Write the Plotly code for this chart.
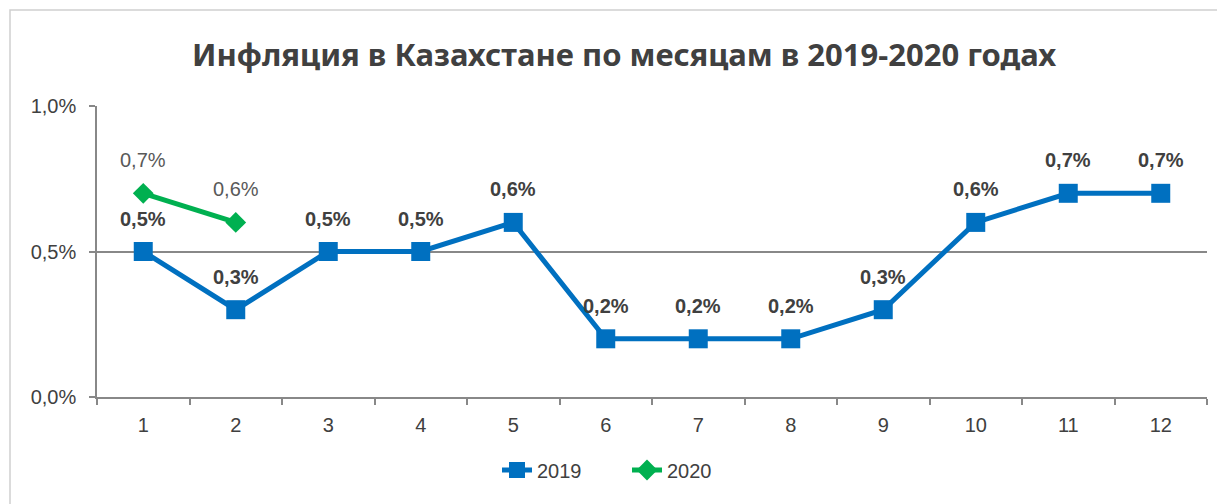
import plotly.graph_objects as go

months = ["1", "2", "3", "4", "5", "6", "7", "8", "9", "10", "11", "12"]
inf_2019 = [0.005, 0.003, 0.005, 0.005, 0.006, 0.002, 0.002, 0.002, 0.003, 0.006, 0.007, 0.007]
months_2020 = ["1", "2"]
inf_2020 = [0.007, 0.006]
title = "Инфляция в Казахстане по месяцам в 2019-2020 годах"

def fmt(v):
    return f"{v*100:.1f}%".replace(".", ",")

BLUE, GREEN, TXT = "#0070C0", "#00B050", "#404040"

fig = go.Figure()
fig.add_trace(go.Scatter(
    x=months, y=inf_2019, name="2019", mode="lines+markers",
    line=dict(color=BLUE, width=5),
    marker=dict(symbol="square", size=19, color=BLUE),
))
fig.add_trace(go.Scatter(
    x=months_2020, y=inf_2020, name="2020", mode="lines+markers",
    line=dict(color=GREEN, width=5),
    marker=dict(symbol="diamond", size=16, color=GREEN),
))

for m, v in zip(months, inf_2019):
    fig.add_annotation(x=months.index(m), y=v, text=fmt(v), showarrow=False, yshift=33,
                       font=dict(family="Liberation Sans", size=20, color=TXT, weight="bold"))
for m, v in zip(months_2020, inf_2020):
    fig.add_annotation(x=months.index(m), y=v, text=fmt(v), showarrow=False, yshift=33,
                       font=dict(family="Liberation Sans", size=20, color="#595959"))

# page is offset by 8px body margin
OFF = 8
W, H = 1225 - 2 * OFF, 504 - OFF
L, T = 97 - OFF, 106 - OFF
PR, PB = 1207 - OFF, 397 - OFF
R, B = W - PR, H - PB
pw, ph = PR - L, PB - T

def px(x):
    return (x - OFF - L) / pw

def py(y):
    return (PB - (y - OFF)) / ph

fig.add_shape(type="rect", xref="paper", yref="paper",
              x0=px(10), x1=px(1245), y0=py(10), y1=py(530),
              line=dict(color="#D0D0D0", width=1.5), layer="below")

fig.update_layout(
    width=W, height=H,
    margin=dict(l=L, r=R, t=T, b=B),
    paper_bgcolor="white", plot_bgcolor="white",
    separators=", ",
    title=dict(text=title, x=(624 - OFF) / W, xref="container", xanchor="center",
               y=1 - (55 - OFF) / H, yanchor="middle",
               font=dict(family="Noto Sans", size=31, color=TXT, weight="bold")),
    showlegend=True,
    legend=dict(orientation="h", x=px(627), xanchor="center", y=py(470), yanchor="middle",
                entrywidth=85, font=dict(family="Liberation Sans", size=20, color=TXT)),
    font=dict(family="Liberation Sans", color=TXT),
)
fig.update_xaxes(type="category", tickson="boundaries", ticks="outside", ticklen=6,
                 tickcolor="#888888", tickwidth=1.5, showline=True, linecolor="#888888",
                 linewidth=1.5, showgrid=False, ticklabelstandoff=9,
                 tickfont=dict(family="Liberation Sans", size=20, color=TXT),
                 range=[-0.5, 11.5])
fig.update_yaxes(range=[0, 0.01], tickvals=[0, 0.005, 0.01], tickformat=".1%",
                 ticks="outside", ticklen=6, tickcolor="#888888", tickwidth=1.5,
                 showline=True, linecolor="#888888", linewidth=1.5, showgrid=True,
                 gridcolor="#888888", gridwidth=1.5, zeroline=False, ticklabelstandoff=9,
                 tickfont=dict(family="Liberation Sans", size=20, color=TXT))

fig.write_html("out.html")
